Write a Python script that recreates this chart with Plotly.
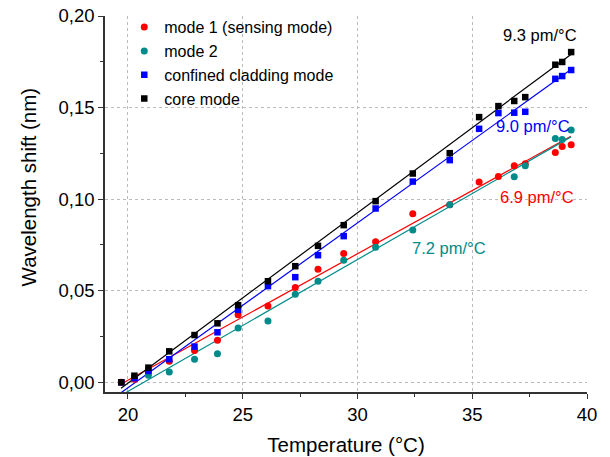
import plotly.graph_objects as go

# Temperatures (°C)
temp = [19.71, 20.28, 20.89, 21.80, 22.90, 23.90, 24.80, 26.10, 27.29, 28.28,
        29.40, 30.79, 32.41, 34.02, 35.30, 36.14, 36.83, 37.31, 38.62, 38.92, 39.31]

# Wavelength shift (nm)
mode1 = [0.000, 0.0016, 0.0058, 0.0115, 0.0173, 0.0230, 0.0369, 0.0417, 0.0517, 0.0617,
         0.0703, 0.0767, 0.0920, 0.0969, 0.1093, 0.1123, 0.1182, 0.1193, 0.1255, 0.1287, 0.1297]
temp_mode2 = [20.89, 21.80, 22.90, 23.90, 24.80, 26.10, 27.29, 28.28, 29.40, 30.79,
              32.41, 34.02, 36.83, 37.31, 38.62, 38.92, 39.31]
mode2 = [0.0038, 0.0056, 0.0126, 0.0156, 0.0297, 0.0335, 0.0481, 0.0552, 0.0667, 0.0738,
         0.0831, 0.0969, 0.1122, 0.1182, 0.1331, 0.1326, 0.1377]
cladding = [0.000, 0.0022, 0.0062, 0.0126, 0.0195, 0.0273, 0.0395, 0.0525, 0.0574, 0.0694,
            0.0798, 0.0949, 0.1096, 0.1213, 0.1384, 0.1470, 0.1472, 0.1477, 0.1657, 0.1672, 0.1705]
core = [0.000, 0.0036, 0.0080, 0.0169, 0.0258, 0.0322, 0.0421, 0.0552, 0.0634, 0.0745,
        0.0858, 0.0989, 0.1140, 0.1251, 0.1448, 0.1508, 0.1536, 0.1557, 0.1734, 0.1749, 0.1803]

# Linear fits: slope (pm/°C) and zero-crossing temperature (°C)
fit_names = ["mode 1", "mode 2", "cladding", "core"]
fit_slopes = [6.9, 7.2, 9.0, 9.3]
fit_t0 = [19.83, 20.69, 20.33, 20.05]
fit_range = [19.7, 39.3]
fit_labels = ["6.9 pm/°C", "7.2 pm/°C", "9.0 pm/°C", "9.3 pm/°C"]

RED = "#FF0000"
TEAL = "#008B8B"
BLUE = "#0000FF"
BLACK = "#000000"
colors = [RED, TEAL, BLUE, BLACK]
FONT = "Liberation Sans, Arial"

fig = go.Figure()

for s, t0, c in zip(fit_slopes, fit_t0, colors):
    fig.add_trace(go.Scatter(
        x=fit_range, y=[s * 1e-3 * (t - t0) for t in fit_range],
        mode="lines", line=dict(color=c, width=1.2), showlegend=False, hoverinfo="skip"))

fig.add_trace(go.Scatter(x=temp, y=mode1, mode="markers", name="mode 1 (sensing mode)",
                         marker=dict(color=RED, size=7, symbol="circle")))
fig.add_trace(go.Scatter(x=temp_mode2, y=mode2, mode="markers", name="mode 2",
                         marker=dict(color=TEAL, size=7, symbol="circle")))
fig.add_trace(go.Scatter(x=temp, y=cladding, mode="markers", name="confined cladding mode",
                         marker=dict(color=BLUE, size=6.5, symbol="square")))
fig.add_trace(go.Scatter(x=temp, y=core, mode="markers", name="core mode",
                         marker=dict(color=BLACK, size=6.5, symbol="square")))

# slope labels
label_pos = [(37.82, 0.1014), (34.0, 0.0732), (37.65, 0.1400), (37.94, 0.1895)]
for (lx, ly), txt, c in zip(label_pos, fit_labels, colors):
    fig.add_annotation(x=lx, y=ly, text=txt, showarrow=False,
                       font=dict(color=c, size=16.5, family=FONT))

# y axis title (placed slightly above the axis centre, as in the original)
fig.add_annotation(xref="paper", yref="paper", x=-0.187, y=0.545, text="Wavelength shift (nm)",
                   textangle=-90, showarrow=False, font=dict(size=20.5, color="black", family=FONT))

axis_common = dict(
    showline=True, linecolor="#333333", linewidth=1.5, mirror=False,
    ticks="outside", ticklen=5, tickwidth=1, tickcolor="#333333",
    showgrid=True, gridcolor="#BBBBBB", griddash="dot", gridwidth=1,
    zeroline=False, tickfont=dict(size=18.5, color="black"), automargin=False,
    ticklabeloverflow="allow",
)

fig.update_xaxes(range=[19, 40], dtick=5, tick0=20,
                 minor=dict(ticks="outside", ticklen=3, dtick=2.5, tick0=20, tickcolor="#333333", showgrid=False),
                 title=dict(text="Temperature (°C)", font=dict(size=20.5, color="black"), standoff=14),
                 **axis_common)
fig.update_yaxes(range=[-0.0053, 0.2], dtick=0.05, tick0=0, tickformat=".2f",
                 minor=dict(ticks="outside", ticklen=3, dtick=0.025, tick0=0, tickcolor="#333333", showgrid=False),
                 **axis_common)

# The page adds an 8 px body margin, so the figure is 8 px smaller and margins shifted.
fig.update_layout(
    width=602, height=449,
    margin=dict(l=97, r=23, t=8, b=65, autoexpand=False),
    plot_bgcolor="white", paper_bgcolor="white",
    separators=",.",
    font=dict(family=FONT, color="black"),
    legend=dict(x=0.04, y=1.0154, xanchor="left", yanchor="top",
                bgcolor="rgba(0,0,0,0)", font=dict(size=16), tracegroupgap=0),
)

fig.write_html("out.html")
